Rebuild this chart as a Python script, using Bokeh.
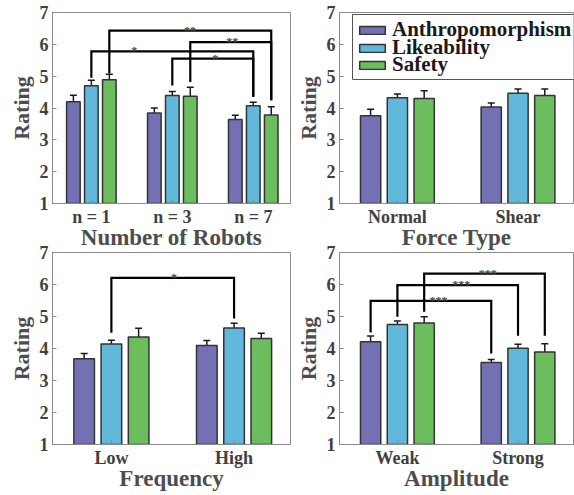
from bokeh.plotting import figure
from bokeh.models import (ColumnDataSource, Range1d, FixedTicker, BoxAnnotation,
                          Whisker, TeeHead, Legend, LegendItem)
from bokeh.layouts import column, row
from bokeh.embed import file_html
from bokeh.resources import INLINE
from bokeh.core.properties import value

# ---------------- data ----------------
series = ["Anthropomorphism", "Likeability", "Safety"]
colors = ["#7470b4", "#62b8da", "#6cbd5d"]

robots_labels = ["n = 1", "n = 3", "n = 7"]
robots_anthro = [4.20, 3.84, 3.64]
robots_like = [4.70, 4.39, 4.07]
robots_safety = [4.89, 4.37, 3.78]
robots_anthro_err = [0.20, 0.16, 0.13]
robots_like_err = [0.17, 0.13, 0.11]
robots_safety_err = [0.17, 0.28, 0.26]

force_labels = ["Normal", "Shear"]
force_anthro = [3.76, 4.03]
force_like = [4.32, 4.46]
force_safety = [4.30, 4.39]
force_anthro_err = [0.20, 0.13]
force_like_err = [0.12, 0.14]
force_safety_err = [0.24, 0.21]

freq_labels = ["Low", "High"]
freq_anthro = [3.68, 4.09]
freq_like = [4.14, 4.64]
freq_safety = [4.36, 4.31]
freq_anthro_err = [0.16, 0.16]
freq_like_err = [0.12, 0.15]
freq_safety_err = [0.27, 0.17]

amp_labels = ["Weak", "Strong"]
amp_anthro = [4.21, 3.56]
amp_like = [4.75, 4.01]
amp_safety = [4.80, 3.89]
amp_anthro_err = [0.18, 0.10]
amp_like_err = [0.11, 0.12]
amp_safety_err = [0.19, 0.26]

# significance brackets: (group, series) pairs, heights, leg ends, labels
robots_br_from = [(0, 2), (1, 2), (0, 1), (1, 1)]
robots_br_to = [(2, 2), (2, 2), (2, 1), (2, 1)]
robots_br_top = [6.43, 6.07, 5.78, 5.55]
robots_br_left_end = [5.08, 4.82, 4.95, 4.71]
robots_br_right_end = [4.24, 4.24, 4.35, 4.35]
robots_br_text = ["**", "**", "*", "*"]
robots_br_text_x = [2.22, 2.74, 1.53, 2.53]

freq_br_from = [(0, 1)]
freq_br_to = [(1, 1)]
freq_br_top = [6.21]
freq_br_left_end = [4.49]
freq_br_right_end = [4.94]
freq_br_text = ["*"]
freq_br_text_x = [1.51]

amp_br_from = [(0, 0), (0, 1), (0, 2)]
amp_br_to = [(1, 0), (1, 1), (1, 2)]
amp_br_top = [5.49, 5.98, 6.34]
amp_br_left_end = [4.50, 4.99, 5.15]
amp_br_right_end = [3.84, 4.40, 4.40]
amp_br_text = ["***", "***", "***"]
amp_br_text_x = [1.34, 1.53, 1.75]

# ---------------- styling ----------------
FONT = "Liberation Serif"
AXIS_COLOR = "#8a8a8a"
TICK_TEXT = "#404040"
LABEL_TEXT = "#4d4d4d"
OFFSET = 0.222
BAR_W = 0.168


def bar_x(group, s):
    return group + 1 + (s - 1) * OFFSET


def make_panel(labels, means, errs, xlabel, xr, width, height, borders,
               brackets=None, legend=False, transparent=False):
    bl, br, bt, bb = borders
    p = figure(width=width, height=height, x_range=Range1d(*xr),
               y_range=Range1d(1, 7), output_backend="svg",
               toolbar_location=None, min_border_left=bl,
               min_border_right=br, min_border_top=bt, min_border_bottom=bb)
    p.xgrid.visible = False
    p.ygrid.visible = False
    p.outline_line_color = AXIS_COLOR
    p.outline_line_width = 1
    p.background_fill_color = "white"
    p.border_fill_color = None if transparent else "white"

    ticks = list(range(1, len(labels) + 1))
    p.xaxis.ticker = FixedTicker(ticks=ticks)
    p.xaxis.major_label_overrides = {t: l for t, l in zip(ticks, labels)}
    p.yaxis.ticker = FixedTicker(ticks=[1, 2, 3, 4, 5, 6, 7])
    p.xaxis.axis_label = xlabel
    p.yaxis.axis_label = "Rating"
    for ax in (p.xaxis[0], p.yaxis[0]):
        ax.axis_line_color = AXIS_COLOR
        ax.major_tick_line_color = AXIS_COLOR
        ax.major_tick_in = 4
        ax.major_tick_out = 0
        ax.minor_tick_line_color = None
        ax.major_label_text_font = FONT
        ax.major_label_text_font_style = "bold"
        ax.major_label_text_font_size = "18px"
        ax.major_label_text_color = TICK_TEXT
        ax.axis_label_text_font = FONT
        ax.axis_label_text_font_style = "bold"
        ax.axis_label_text_font_size = "23px"
        ax.axis_label_text_color = LABEL_TEXT
    p.yaxis.axis_label_text_font_size = "22px"
    p.xaxis.major_label_standoff = 3
    p.xaxis.axis_label_standoff = -5
    p.yaxis.major_label_standoff = 4
    p.yaxis.axis_label_standoff = 3

    renderers = []
    for s in range(3):
        xs = [bar_x(g, s) for g in range(len(labels))]
        src = ColumnDataSource(dict(
            x=xs, top=means[s],
            upper=[m + e for m, e in zip(means[s], errs[s])],
            lower=[m - e for m, e in zip(means[s], errs[s])]))
        r = p.vbar(x="x", top="top", bottom=1, width=BAR_W, source=src,
                   fill_color=colors[s], line_color="#333333", line_width=1.5)
        renderers.append(r)
        wh = Whisker(base="x", upper="upper", lower="lower", source=src,
                     dimension="height", line_color="#1a1a1a", line_width=1.5,
                     upper_head=TeeHead(size=7, line_width=1.5, line_color="#1a1a1a"),
                     lower_head=TeeHead(size=7, line_width=1.5, line_color="#1a1a1a"))
        p.add_layout(wh)

    if brackets is not None:
        b_from, b_to, b_top, b_le, b_re, b_txt, b_tx = brackets
        xs_list, ys_list = [], []
        for (gf, sf), (gt, st), top, le, re_ in zip(b_from, b_to, b_top, b_le, b_re):
            xl = bar_x(gf, sf)
            xr_ = bar_x(gt, st)
            xs_list.append([xl, xl, xr_, xr_])
            ys_list.append([le, top, top, re_])
        p.multi_line(xs=xs_list, ys=ys_list, line_color="black", line_width=2.2,
                     line_join="miter")
        p.text(x=b_tx, y=b_top, text=b_txt, text_font=value(FONT),
               text_font_size="12px", text_font_style="bold",
               text_align="center", text_baseline="alphabetic",
               text_color="#444444")

    if legend:
        # legend frame (screen units, relative to the plot frame)
        box = BoxAnnotation(left=13, right=236, top=189, bottom=124,
                            left_units="screen", right_units="screen",
                            top_units="screen", bottom_units="screen",
                            fill_color="white", fill_alpha=1.0,
                            line_color="#555555", line_width=1, line_alpha=1.0)
        p.add_layout(box)
        for i, ypos in enumerate([161, 143, 126]):
            lg = Legend(items=[LegendItem(label=series[i], renderers=[renderers[i]])],
                        location=(17, ypos))
            lg.label_text_font = FONT
            lg.label_text_font_style = "bold"
            lg.label_text_font_size = "21px"
            lg.label_text_color = "#1a1a1a"
            lg.glyph_width = 32
            lg.glyph_height = 10
            lg.label_standoff = 4
            lg.spacing = 0
            lg.padding = 0
            lg.margin = 0
            lg.border_line_color = None
            lg.background_fill_color = None
            lg.background_fill_alpha = 0
            p.add_layout(lg)
    return p


W1, W2 = 292, 282
H1, H2 = 255, 256
ROW2_SHIFT = -17

p1 = make_panel(robots_labels, [robots_anthro, robots_like, robots_safety],
                [robots_anthro_err, robots_like_err, robots_safety_err],
                "Number of Robots", (0.52, 3.46), W1, H1, (52, 2, 12, 52),
                brackets=(robots_br_from, robots_br_to, robots_br_top,
                          robots_br_left_end, robots_br_right_end,
                          robots_br_text, robots_br_text_x))
p2 = make_panel(force_labels, [force_anthro, force_like, force_safety],
                [force_anthro_err, force_like_err, force_safety_err],
                "Force Type", (0.52, 2.46), W2, H1, (43, 1, 12, 52), legend=True)
p3 = make_panel(freq_labels, [freq_anthro, freq_like, freq_safety],
                [freq_anthro_err, freq_like_err, freq_safety_err],
                "Frequency", (0.52, 2.46), W1, H2, (52, 2, 14, 50),
                brackets=(freq_br_from, freq_br_to, freq_br_top,
                          freq_br_left_end, freq_br_right_end,
                          freq_br_text, freq_br_text_x), transparent=True)
p4 = make_panel(amp_labels, [amp_anthro, amp_like, amp_safety],
                [amp_anthro_err, amp_like_err, amp_safety_err],
                "Amplitude", (0.52, 2.46), W2, H2, (43, 1, 14, 50),
                brackets=(amp_br_from, amp_br_to, amp_br_top,
                          amp_br_left_end, amp_br_right_end,
                          amp_br_text, amp_br_text_x), transparent=True)

layout = column(row(p1, p2), row(p3, p4, margin=(ROW2_SHIFT, 0, 0, 0)))
open("out.html", "w").write(file_html(layout, INLINE))
